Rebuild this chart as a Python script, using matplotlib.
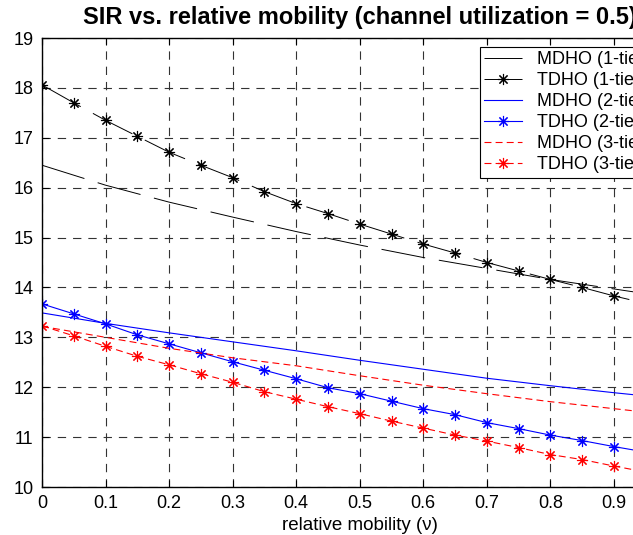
import numpy as np
import matplotlib
matplotlib.use("Agg")
import matplotlib.pyplot as plt

plt.rcParams['font.family'] = ['Liberation Sans', 'DejaVu Sans']
plt.rcParams['lines.scale_dashes'] = False

# relative mobility
nu = [0.0, 0.05, 0.1, 0.15, 0.2, 0.25, 0.3, 0.35, 0.4, 0.45, 0.5,
      0.55, 0.6, 0.65, 0.7, 0.75, 0.8, 0.85, 0.9, 0.95, 1.0]
nu_md = [0.0, 0.1, 0.2, 0.3, 0.4, 0.5, 0.6, 0.7, 0.8, 0.9, 1.0]

mdho_1 = [16.45, 16.05, 15.71, 15.41, 15.12, 14.85, 14.60, 14.38, 14.16, 13.97, 13.78]
tdho_1 = [18.06, 17.70, 17.35, 17.03, 16.71, 16.45, 16.20, 15.92, 15.68, 15.48, 15.27,
          15.07, 14.87, 14.69, 14.50, 14.33, 14.16, 14.00, 13.83, 13.68, 13.54]
mdho_2 = [13.49, 13.28, 13.09, 12.91, 12.73, 12.54, 12.36, 12.18, 12.03, 11.89, 11.76]
tdho_2 = [13.67, 13.47, 13.27, 13.05, 12.87, 12.69, 12.51, 12.34, 12.17, 11.99, 11.87,
          11.72, 11.57, 11.45, 11.29, 11.17, 11.04, 10.93, 10.81, 10.70, 10.59]
mdho_3 = [13.22, 13.00, 12.78, 12.59, 12.43, 12.23, 12.04, 11.87, 11.71, 11.57, 11.43]
tdho_3 = [13.23, 13.03, 12.82, 12.62, 12.45, 12.27, 12.10, 11.91, 11.76, 11.61, 11.47,
          11.32, 11.18, 11.04, 10.92, 10.79, 10.65, 10.55, 10.42, 10.30, 10.19]

labels = ["MDHO (1-tier)", "TDHO (1-tier)", "MDHO (2-tier)",
          "TDHO (2-tier)", "MDHO (3-tier)", "TDHO (3-tier)"]

fig = plt.figure(figsize=(6.33, 5.35), dpi=100)
ax = fig.add_axes([42/633, 48/535, 635.5/633, 449/535])

star = (8, 2, 0)
long_dash = (0, (32, 10))
short_dash = (0, (5, 3))

ax.plot(nu_md, mdho_1, color='black', lw=0.7, ls=long_dash, label=labels[0])
ax.plot(nu, tdho_1, color='black', lw=0.7, ls=long_dash, marker=star,
        ms=8, mew=0.8, label=labels[1])
ax.plot(nu_md, mdho_2, color='#0000ff', lw=0.8, ls='-', label=labels[2])
ax.plot(nu, tdho_2, color='#0000ff', lw=0.8, ls='-', marker=star,
        ms=8, mew=0.8, label=labels[3])
ax.plot(nu_md, mdho_3, color='#ff0000', lw=0.8, ls=short_dash, label=labels[4])
ax.plot(nu, tdho_3, color='#ff0000', lw=0.8, ls=short_dash, marker=star,
        ms=8, mew=0.8, label=labels[5])

ax.set_xlim(0, 1)
ax.set_ylim(10, 19)
ax.set_xticks(np.arange(0, 11) / 10)
ax.set_xticklabels(['0'] + ['%.1f' % (i / 10) for i in range(1, 10)] + ['1'])
ax.set_yticks(range(10, 20))
ax.tick_params(direction='in', length=5, width=0.8, top=True, right=True,
               labelsize=13)
ax.tick_params(axis='y', pad=6)
ax.tick_params(axis='x', pad=6)
for s in ax.spines.values():
    s.set_linewidth(1.0)

ax.grid(True, color='#333333', ls=(0, (6, 5)), lw=0.8)

ax.set_title("SIR vs. relative mobility (channel utilization = 0.5)",
             fontsize=17, fontweight='bold', pad=10)
ax.set_xlabel("relative mobility (ν)", fontsize=13.5, labelpad=3)

leg = ax.legend(loc='upper left', bbox_to_anchor=(0.689, 0.98), fontsize=13,
                frameon=True, fancybox=False, edgecolor='black',
                framealpha=1, handlelength=2.1, labelspacing=0.22,
                borderpad=0.25, handletextpad=0.8, borderaxespad=0)
leg.get_frame().set_linewidth(0.8)

fig.savefig("out.png", dpi=100)
